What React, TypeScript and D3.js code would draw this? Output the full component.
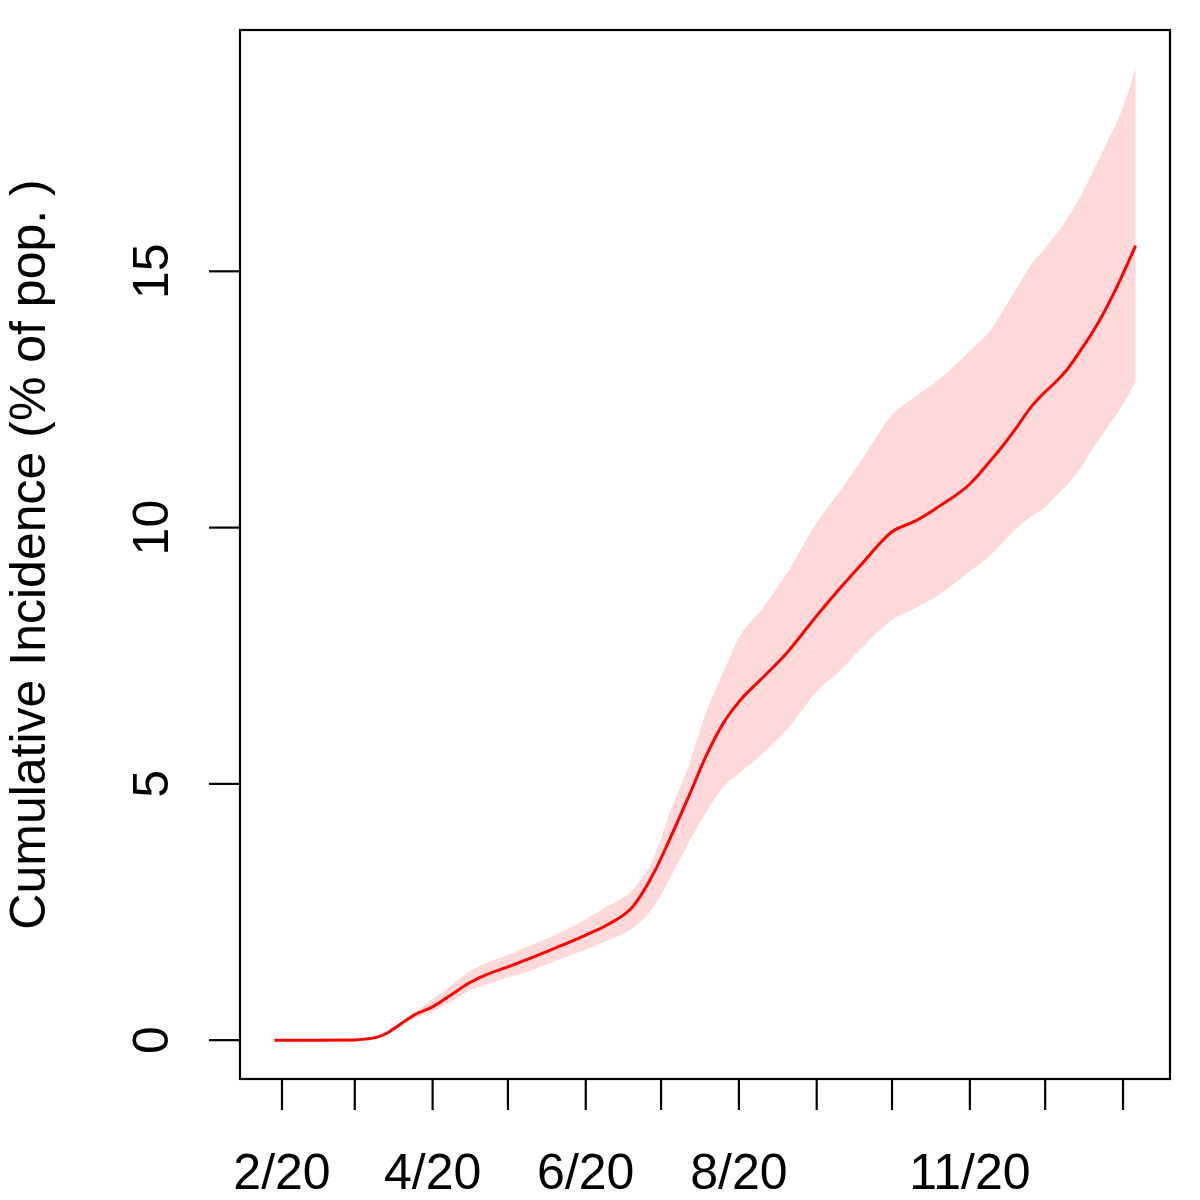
import * as d3 from 'd3';

// sample dates (UTC) and cumulative incidence, % of population
const dates = [
  '2020-01-29', '2020-02-15', '2020-03-01', '2020-03-05', '2020-03-10', '2020-03-14',
  '2020-03-18', '2020-03-25', '2020-04-01', '2020-04-08', '2020-04-15', '2020-04-22',
  '2020-05-01', '2020-05-10', '2020-05-20', '2020-06-01', '2020-06-10', '2020-06-20',
  '2020-06-28', '2020-07-05', '2020-07-12', '2020-07-19', '2020-07-26', '2020-08-01',
  '2020-08-10', '2020-08-20', '2020-09-01', '2020-09-10', '2020-09-20', '2020-10-01',
  '2020-10-10', '2020-10-20', '2020-11-01', '2020-11-10', '2020-11-15', '2020-11-20',
  '2020-11-25', '2020-12-01', '2020-12-05', '2020-12-10', '2020-12-15', '2020-12-20',
  '2020-12-25', '2021-01-01', '2021-01-06',
];

const mean = [
  0, 0, 0.005, 0.02, 0.06, 0.14,
  0.27, 0.5, 0.65, 0.87, 1.1, 1.27,
  1.43, 1.6, 1.8, 2.05, 2.26, 2.62,
  3.25, 3.98, 4.75, 5.55, 6.2, 6.6,
  7.05, 7.55, 8.28, 8.8, 9.35, 9.92,
  10.12, 10.42, 10.85, 11.35, 11.65, 11.98,
  12.33, 12.65, 12.83, 13.1, 13.45, 13.82,
  14.25, 14.95, 15.5,
];

const upper = [
  0, 0, 0.005, 0.02, 0.07, 0.16,
  0.3, 0.55, 0.8, 1.05, 1.32, 1.5,
  1.66, 1.85, 2.05, 2.36, 2.62, 2.95,
  3.55, 4.5, 5.35, 6.4, 7.2, 7.85,
  8.4, 9.1, 10.1, 10.7, 11.4, 12.2,
  12.55, 12.9, 13.45, 13.9, 14.3, 14.7,
  15.1, 15.45, 15.7, 16.05, 16.45, 16.95,
  17.45, 18.2, 18.95,
];

const lower = [
  0, 0, 0.004, 0.015, 0.05, 0.12,
  0.24, 0.43, 0.56, 0.74, 0.95, 1.08,
  1.22, 1.36, 1.55, 1.77, 1.95, 2.2,
  2.6, 3.2, 3.85, 4.45, 4.95, 5.2,
  5.57, 6.05, 6.8, 7.2, 7.7, 8.2,
  8.42, 8.7, 9.15, 9.5, 9.75, 10.0,
  10.2, 10.4, 10.6, 10.85, 11.15, 11.55,
  11.9, 12.4, 12.85,
];

const xTickDates = [
  '2020-02-01', '2020-03-01', '2020-04-01', '2020-05-01', '2020-06-01', '2020-07-01',
  '2020-08-01', '2020-09-01', '2020-10-01', '2020-11-01', '2020-12-01', '2021-01-01',
];
// R drops labels that would overlap
const xTickLabels = ['2/20', '', '4/20', '', '6/20', '', '8/20', '', '', '11/20', '', ''];
const yTicks = [0, 5, 10, 15];

type Row = { date: Date; mean: number; lower: number; upper: number };

const rows: Row[] = dates.map((d, i) => ({
  date: new Date(d + 'T00:00:00Z'),
  mean: mean[i],
  lower: lower[i],
  upper: upper[i],
}));

export default function App() {
  const width = 1200;
  const height = 1200;
  const plot = { left: 240, right: 1170, top: 30, bottom: 1079 };
  const font = '"Liberation Sans", Arial, Helvetica, sans-serif';

  // R style: extend data ranges by 4% on each side
  const [t0, t1] = d3.extent(rows, (d) => d.date.getTime()) as [number, number];
  const tPad = (t1 - t0) * 0.04;
  const x = d3
    .scaleUtc()
    .domain([new Date(t0 - tPad), new Date(t1 + tPad)])
    .range([plot.left, plot.right]);

  const yMin = d3.min(rows, (d) => d.lower) as number;
  const yMax = d3.max(rows, (d) => d.upper) as number;
  const yPad = (yMax - yMin) * 0.04;
  const y = d3
    .scaleLinear()
    .domain([yMin - yPad, yMax + yPad])
    .range([plot.bottom, plot.top]);

  const band =
    d3
      .area<Row>()
      .x((d) => x(d.date))
      .y0((d) => y(d.lower))
      .y1((d) => y(d.upper))
      .curve(d3.curveMonotoneX)(rows) ?? '';

  const line =
    d3
      .line<Row>()
      .x((d) => x(d.date))
      .y((d) => y(d.mean))
      .curve(d3.curveMonotoneX)(rows) ?? '';

  const tickLen = 31;

  return (
    <svg
      width={width}
      height={height}
      viewBox={`0 0 ${width} ${height}`}
      style={{ position: 'absolute', left: 0, top: 0, background: '#fff' }}
      fontFamily={font}
    >
      <rect x={0} y={0} width={width} height={height} fill="#fff" />

      <path d={band} fill="#ffd9d9" stroke="none" />
      <path d={line} fill="none" stroke="#ff0000" strokeWidth={3} />

      <rect
        x={plot.left}
        y={plot.top}
        width={plot.right - plot.left}
        height={plot.bottom - plot.top}
        fill="none"
        stroke="#000"
        strokeWidth={2.2}
      />

      {xTickDates.map((d, i) => {
        const px = x(new Date(d + 'T00:00:00Z'));
        return (
          <g key={d} transform={`translate(${px},0)`}>
            <line y1={plot.bottom} y2={plot.bottom + tickLen} stroke="#000" strokeWidth={2.2} />
            {xTickLabels[i] && (
              <text y={1189} textAnchor="middle" fontSize={50} fill="#000">
                {xTickLabels[i]}
              </text>
            )}
          </g>
        );
      })}

      {yTicks.map((t) => (
        <g key={t} transform={`translate(0,${y(t)})`}>
          <line x1={plot.left - tickLen} x2={plot.left} stroke="#000" strokeWidth={2.2} />
          <text
            transform={`translate(168,0) rotate(-90)`}
            textAnchor="middle"
            fontSize={50}
            fill="#000"
          >
            {t}
          </text>
        </g>
      ))}

      <text
        transform={`translate(45,${(plot.top + plot.bottom) / 2}) rotate(-90)`}
        textAnchor="middle"
        fontSize={50}
        fill="#000"
      >
        Cumulative Incidence (% of pop. )
      </text>
    </svg>
  );
}
